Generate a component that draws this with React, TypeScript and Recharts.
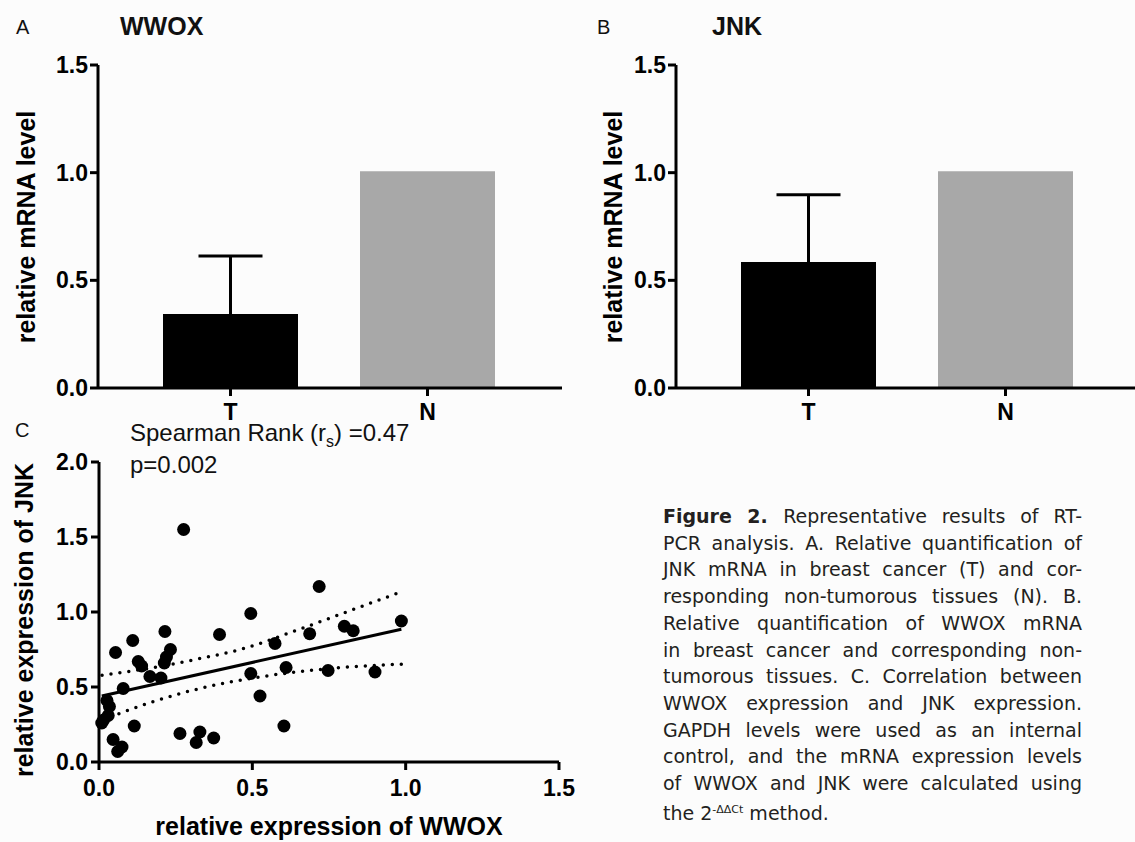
import React from "react";
import { Bar, BarChart, Cell, ErrorBar, Scatter, ScatterChart, XAxis, YAxis } from "recharts";

const FONT = '"Liberation Sans", Arial, Helvetica, sans-serif';
const CAPTION_FONT = '"DejaVu Sans", Verdana, sans-serif';

// panel A / B: mean relative mRNA level, SD drawn above the tumour bar only
const groups = ["T", "N"];
const wwoxMean = [0.344, 1.006];
const wwoxErr = [0.269, null];
const jnkMean = [0.585, 1.006];
const jnkErr = [0.313, null];
const barColors = ["#000000", "#a8a8a8"];
const barTicks = [0, 0.5, 1, 1.5];
// lower half of the SD stays hidden inside the black bar (as in Prism "above only")
const HIDDEN_LOW = 0.03;

// panel C: paired samples (WWOX on x, JNK on y)
const wwoxExpr = [
  0.009, 0.015, 0.03, 0.026, 0.034, 0.046, 0.061, 0.075, 0.054, 0.079,
  0.11, 0.115, 0.128, 0.139, 0.166, 0.202, 0.215, 0.213, 0.22, 0.233,
  0.264, 0.276, 0.317, 0.329, 0.374, 0.393, 0.495, 0.495, 0.525, 0.574,
  0.603, 0.61, 0.687, 0.718, 0.747, 0.8, 0.829, 0.9, 0.986,
];
const jnkExpr = [
  0.26, 0.28, 0.31, 0.41, 0.37, 0.15, 0.07, 0.1, 0.73, 0.49,
  0.81, 0.24, 0.67, 0.64, 0.57, 0.56, 0.87, 0.66, 0.7, 0.75,
  0.19, 1.55, 0.13, 0.2, 0.16, 0.85, 0.99, 0.59, 0.44, 0.79,
  0.24, 0.63, 0.855, 1.17, 0.61, 0.905, 0.875, 0.6, 0.94,
];

// regression line and its 95% band
const fitX = [0.009, 0.986];
const fitY = [0.44, 0.885];
const upperX = [0.01, 0.22, 0.33, 0.46, 0.66, 0.82, 0.986];
const upperY = [0.578, 0.645, 0.69, 0.75, 0.89, 1.01, 1.135];
const lowerX = [0.01, 0.067, 0.18, 0.329, 0.535, 0.763, 0.986];
const lowerY = [0.28, 0.324, 0.405, 0.49, 0.57, 0.625, 0.652];

const xTicksC = [0, 0.5, 1, 1.5];
const yTicksC = [0, 0.5, 1, 1.5, 2];

const captionLines = [
  "Representative results of RT-",
  "PCR analysis. A. Relative quantification of",
  "JNK mRNA in breast cancer (T) and cor-",
  "responding non-tumorous tissues (N). B.",
  "Relative quantification of WWOX mRNA",
  "in breast cancer and corresponding non-",
  "tumorous tissues. C. Correlation between",
  "WWOX expression and JNK expression.",
  "GAPDH levels were used as an internal",
  "control, and the mRNA expression levels",
  "of WWOX and JNK were calculated using",
];

const zip = (xs: number[], ys: number[]) => xs.map((x, i) => ({ x, y: ys[i] }));

const barData = (means: number[], errs: (number | null)[]) =>
  groups.map((name, i) => ({
    name,
    value: means[i],
    err: errs[i] == null ? null : [HIDDEN_LOW, errs[i] as number],
  }));

const axisStroke = { stroke: "#000", strokeWidth: 3 };
const tickStyle = { fill: "#000", fontSize: 23, fontWeight: 700, fontFamily: FONT };
const fmt = (v: number) => v.toFixed(1);

const noDot = () => <g />;
const dot = (p: any) => <circle cx={p.cx} cy={p.cy} r={6.5} fill="#000" />;

function Txt({ left, top, size = 22, bold = false, children }: any) {
  return (
    <div
      style={{
        position: "absolute",
        left,
        top,
        fontSize: size,
        fontWeight: bold ? 700 : 400,
        fontFamily: FONT,
        lineHeight: 1,
        whiteSpace: "nowrap",
        color: "#111",
      }}
    >
      {children}
    </div>
  );
}

function AxisTitle({ cx, cy, rotate = false, children }: any) {
  return (
    <div
      style={{
        position: "absolute",
        left: cx,
        top: cy,
        transform: `translate(-50%, -50%)${rotate ? " rotate(-90deg)" : ""}`,
        fontSize: 25,
        fontWeight: 700,
        fontFamily: FONT,
        lineHeight: 1,
        whiteSpace: "nowrap",
        color: "#000",
      }}
    >
      {children}
    </div>
  );
}

function BarPanel({ data, left, width, padding }: any) {
  return (
    <div style={{ position: "absolute", left, top: 0 }}>
      <BarChart width={width} height={432} data={data} margin={{ top: 65, right: 0, bottom: 0, left: 0 }}>
        <XAxis
          dataKey="name"
          height={44}
          padding={padding}
          axisLine={axisStroke}
          tickLine={axisStroke}
          tickSize={8}
          tickMargin={8}
          tick={tickStyle}
        />
        <YAxis
          width={98}
          domain={[0, 1.5]}
          ticks={barTicks}
          tickFormatter={fmt}
          axisLine={axisStroke}
          tickLine={axisStroke}
          tickSize={8}
          tickMargin={2}
          tick={tickStyle}
        />
        <Bar dataKey="value" barSize={135} isAnimationActive={false}>
          {data.map((d: any, i: number) => (
            <Cell key={d.name} fill={barColors[i]} />
          ))}
          <ErrorBar dataKey="err" direction="y" width={32} stroke="#000" strokeWidth={3} />
        </Bar>
      </BarChart>
    </div>
  );
}

export default function App() {
  const points = zip(wwoxExpr, jnkExpr);
  const fit = zip(fitX, fitY);
  const upper = zip(upperX, upperY);
  const lower = zip(lowerX, lowerY);
  const dotted = { stroke: "#000", strokeWidth: 3.5, strokeDasharray: "0 9", strokeLinecap: "round" as const };

  return (
    <div
      style={{
        position: "absolute",
        left: 0,
        top: 0,
        width: 1135,
        height: 842,
        background: "#fcfcfc",
        overflow: "hidden",
      }}
    >
      <BarPanel data={barData(wwoxMean, wwoxErr)} left={0} width={562} padding={{ left: 34, right: 36 }} />
      <BarPanel data={barData(jnkMean, jnkErr)} left={578} width={557} padding={{ left: 34, right: 31 }} />

      <div style={{ position: "absolute", left: 0, top: 420 }}>
        <ScatterChart width={580} height={422} margin={{ top: 42, right: 21, bottom: 0, left: 0 }}>
          <XAxis
            type="number"
            dataKey="x"
            domain={[0, 1.5]}
            ticks={xTicksC}
            tickFormatter={fmt}
            height={80}
            axisLine={axisStroke}
            tickLine={axisStroke}
            tickSize={8}
            tickMargin={10}
            tick={tickStyle}
          />
          <YAxis
            type="number"
            dataKey="y"
            domain={[0, 2]}
            ticks={yTicksC}
            tickFormatter={fmt}
            width={99}
            axisLine={axisStroke}
            tickLine={axisStroke}
            tickSize={8}
            tickMargin={3}
            tick={tickStyle}
          />
          <Scatter data={upper} shape={noDot} line={dotted} lineJointType="monotoneX" isAnimationActive={false} />
          <Scatter data={lower} shape={noDot} line={dotted} lineJointType="monotoneX" isAnimationActive={false} />
          <Scatter data={fit} shape={noDot} line={{ stroke: "#000", strokeWidth: 3 }} isAnimationActive={false} />
          <Scatter data={points} shape={dot} isAnimationActive={false} />
        </ScatterChart>
      </div>

      {/* panel letters and titles */}
      <Txt left={16} top={17} size={20}>A</Txt>
      <Txt left={120} top={14} size={25} bold>WWOX</Txt>
      <Txt left={597} top={17} size={20}>B</Txt>
      <Txt left={712} top={14} size={25} bold>JNK</Txt>
      <Txt left={15} top={420} size={20}>C</Txt>
      <Txt left={130} top={421} size={24}>
        Spearman Rank (r<span style={{ fontSize: 16, position: "relative", top: 6 }}>s</span>) =0.47
      </Txt>
      <Txt left={130} top={453} size={24}>p=0.002</Txt>

      <AxisTitle cx={26} cy={227} rotate>relative mRNA level</AxisTitle>
      <AxisTitle cx={613} cy={227} rotate>relative mRNA level</AxisTitle>
      <AxisTitle cx={24} cy={620} rotate>relative expression of JNK</AxisTitle>
      <AxisTitle cx={329} cy={826}>relative expression of WWOX</AxisTitle>

      {/* figure caption */}
      <div
        style={{
          position: "absolute",
          left: 663,
          top: 503,
          width: 419,
          fontFamily: CAPTION_FONT,
          fontSize: 19,
          lineHeight: "26.7px",
          color: "#231f20",
        }}
      >
        {captionLines.map((line, i) => (
          <div key={i} style={{ textAlign: "justify", textAlignLast: "justify", whiteSpace: "nowrap" }}>
            {i === 0 ? <b>Figure 2. </b> : null}
            {line}
          </div>
        ))}
        <div>
          the 2<sup style={{ fontSize: 11 }}>-ΔΔCt</sup> method.
        </div>
      </div>
    </div>
  );
}
